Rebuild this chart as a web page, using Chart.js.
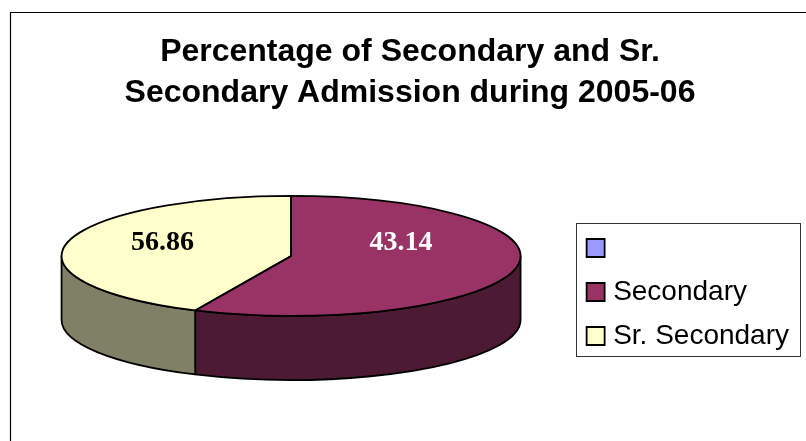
<!DOCTYPE html>
<html>
<head>
<meta charset="utf-8">
<title>Secondary and Sr. Secondary Admission</title>
<script src="https://cdn.jsdelivr.net/npm/chart.js@4/dist/chart.umd.min.js"></script>
<style>
  html, body { margin: 0; padding: 0; background: #fff; }
  canvas { display: block; }
</style>
</head>
<body>
<canvas id="chart" width="806" height="441"></canvas>
<script>
// slice sizes as drawn: the purple slice is the larger one, though its printed label says 43.14
const categories   = ['', 'Secondary', 'Sr. Secondary'];
const sliceValues  = [0, 56.86, 43.14];
const sliceLabels  = ['', '43.14', '56.86'];
const topColors    = ['#9999FF', '#993366', '#FFFFCC'];
const wallColors   = ['#4D4D80', '#4D1A33', '#808066'];
const titleLines   = ['Percentage of Secondary and Sr.', 'Secondary Admission during 2005-06'];

// ── Tilted pie ───────────────────────────────────────────────
const RX = 229.5, RY = 60, DEPTH = 64;

const tiltedPie = {
  id: 'tiltedPie',

  afterLayout(chart) {
    // title sits right of the page centre
    chart.titleBlock.left += 7.5;
    chart.titleBlock.right += 7.5;
  },

  beforeDraw(chart) {
    // page frame runs off the right and bottom edges
    const ctx = chart.ctx;
    ctx.save();
    ctx.strokeStyle = '#000';
    ctx.lineWidth = 1.2;
    ctx.beginPath();
    ctx.moveTo(10.5, 441);
    ctx.lineTo(10.5, 12.5);
    ctx.lineTo(806, 12.5);
    ctx.stroke();
    ctx.restore();
  },

  beforeDatasetsDraw(chart) {
    const ctx = chart.ctx;
    const arcs = chart.getDatasetMeta(0).data;
    ctx.save();
    ctx.strokeStyle = '#000';
    ctx.lineWidth = 1.8;
    ctx.lineJoin = 'round';
    arcs.forEach((arc, i) => {
      const a0 = Math.max(arc.startAngle, 0);
      const a1 = Math.min(arc.endAngle, Math.PI);
      if (a1 <= a0) return;
      ctx.beginPath();
      ctx.ellipse(arc.x, arc.y, RX, RY, 0, a0, a1);
      ctx.ellipse(arc.x, arc.y + DEPTH, RX, RY, 0, a1, a0, true);
      ctx.closePath();
      ctx.fillStyle = wallColors[i];
      ctx.fill();
      ctx.stroke();
    });
    ctx.restore();

    // squash the library's circle into the ellipse of the top face
    const { x, y } = arcs[1];
    ctx.save();
    ctx.translate(x, y);
    ctx.scale(1, RY / RX);
    ctx.translate(-x, -y);
  },

  afterDatasetsDraw(chart) {
    const ctx = chart.ctx;
    ctx.restore();

    ctx.save();
    ctx.strokeStyle = '#000';
    ctx.lineWidth = 1.8;
    ctx.lineJoin = 'round';
    chart.getDatasetMeta(0).data.forEach(arc => {
      if (arc.endAngle <= arc.startAngle) return;
      ctx.beginPath();
      ctx.moveTo(arc.x, arc.y);
      ctx.ellipse(arc.x, arc.y, RX, RY, 0, arc.startAngle, arc.endAngle);
      ctx.closePath();
      ctx.stroke();
    });
    ctx.restore();

    // value labels
    ctx.save();
    ctx.font = 'bold 28px "Liberation Serif"';
    ctx.textAlign = 'center';
    ctx.textBaseline = 'middle';
    ctx.fillStyle = '#fff';
    ctx.fillText(sliceLabels[1], 401, 243);
    ctx.fillStyle = '#000';
    ctx.fillText(sliceLabels[2], 162.5, 243);
    ctx.restore();
  },

  afterDraw(chart) {
    // box round the legend
    const ctx = chart.ctx;
    ctx.save();
    ctx.strokeStyle = '#333';
    ctx.lineWidth = 1;
    ctx.strokeRect(576.5, 223.5, 224, 133);
    ctx.restore();
  }
};

new Chart(document.getElementById('chart'), {
  type: 'pie',
  data: {
    labels: categories,
    datasets: [{
      data: sliceValues,
      backgroundColor: topColors,
      borderWidth: 0,
      radius: RX
    }]
  },
  options: {
    responsive: false,
    animation: false,
    events: [],
    layout: { padding: { left: 6, right: 7, top: 0, bottom: 75 } },
    plugins: {
      title: {
        display: true,
        text: titleLines,
        color: '#000',
        font: { family: '"Liberation Sans"', size: 32, weight: 'bold', lineHeight: 1.28 },
        padding: { top: 32, bottom: 32 }
      },
      legend: {
        position: 'right',
        align: 'end',
        labels: {
          color: '#000',
          font: { family: '"Liberation Sans"', size: 28 },
          usePointStyle: true,
          pointStyle: 'rect',
          boxWidth: 7,
          boxHeight: 18,
          padding: 16,
          generateLabels(chart) {
            const items = Chart.overrides.pie.plugins.legend.labels.generateLabels(chart);
            items.forEach(item => {
              item.lineWidth = 1.8;
              item.strokeStyle = '#000';
            });
            return items;
          }
        }
      },
      tooltip: { enabled: false }
    }
  },
  plugins: [tiltedPie]
});
</script>
</body>
</html>
